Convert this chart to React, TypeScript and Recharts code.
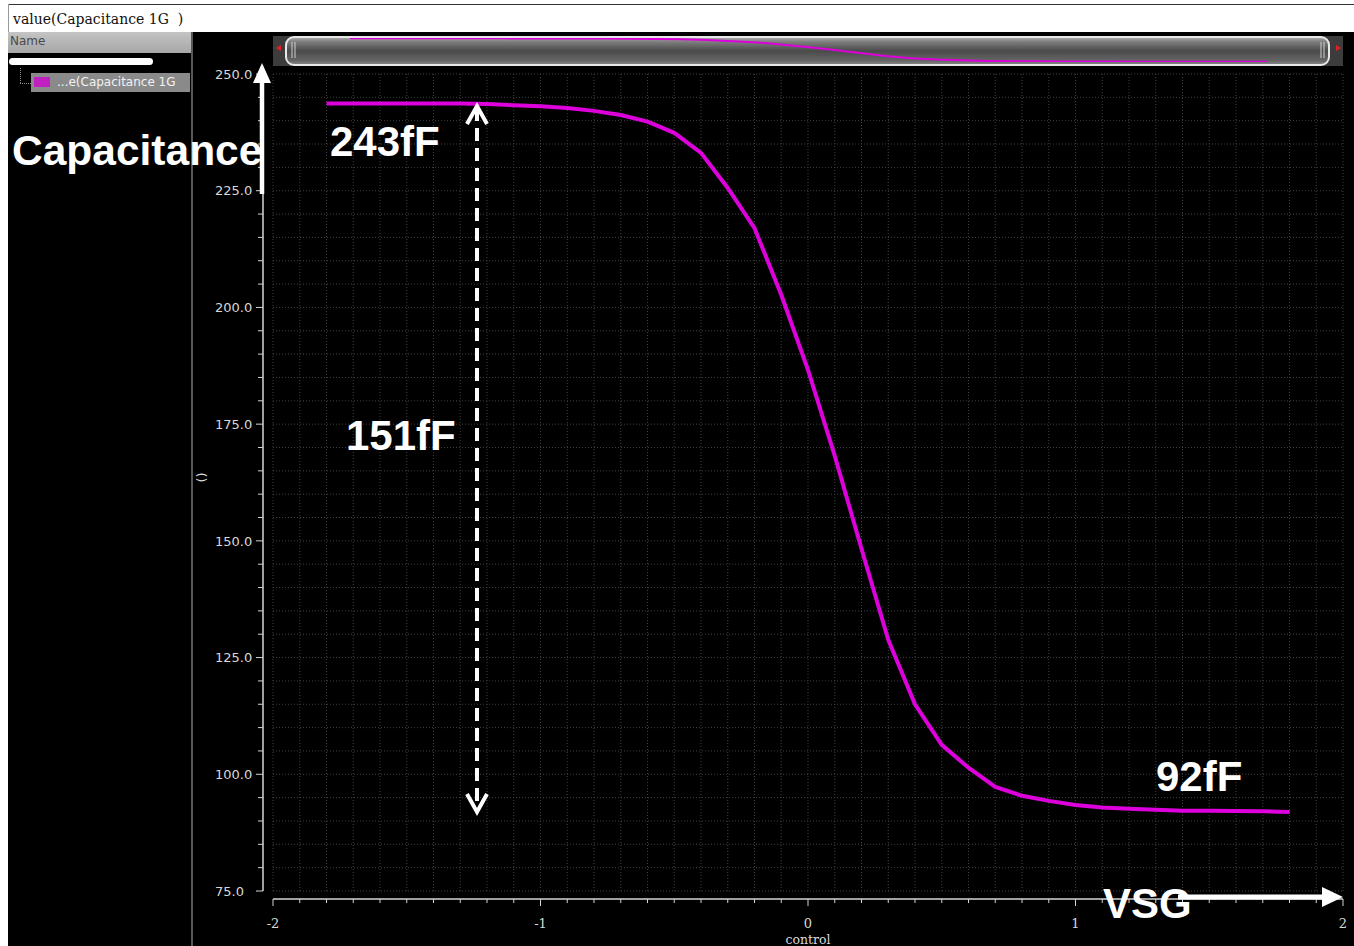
import React from 'react';
import { LineChart, Line, XAxis, YAxis, CartesianGrid } from 'recharts';

// ---- data ----
const vsg = [
  -1.8, -1.7, -1.6, -1.5, -1.4, -1.3, -1.2, -1.1, -1.0, -0.9, -0.8, -0.7, -0.6,
  -0.5, -0.4, -0.3, -0.2, -0.1, 0.0, 0.1, 0.2, 0.3, 0.4, 0.5, 0.6, 0.7, 0.8,
  0.9, 1.0, 1.1, 1.2, 1.3, 1.4, 1.5, 1.6, 1.7, 1.8,
];
const capacitance = [
  243.7, 243.7, 243.7, 243.7, 243.7, 243.7, 243.6, 243.3, 243.1, 242.7, 242.1,
  241.2, 239.8, 237.4, 233.1, 225.6, 217.0, 202.7, 186.6, 168.2, 148.3, 128.8,
  115.0, 106.3, 101.4, 97.3, 95.4, 94.3, 93.4, 92.9, 92.6, 92.4, 92.2, 92.2,
  92.15, 92.1, 91.9,
];
const xTickLabels = ['-2', '-1', '0', '1', '2'];
const yLabelTicks = [75, 100, 125, 150, 175, 200, 225, 250];
const xTicks = Array.from({ length: 41 }, (_, i) => (i - 20) / 10);
const yTicks = Array.from({ length: 36 }, (_, i) => 75 + i * 5);

const data = vsg.map((v, i) => ({ vsg: v, cap: capacitance[i] }));

const CURVE = '#dd00dd';
const AXIS = '#d4d4d4';

const YTick = (props: any) => {
  const { x, y, payload } = props;
  const v = payload.value as number;
  const major = yLabelTicks.includes(v);
  const ax = x - 10;
  return (
    <g>
      <line x1={ax - (major ? 7 : 5)} x2={ax} y1={y} y2={y} stroke={AXIS} strokeWidth={1} />
      {major && (
        <text x={ax - 48} y={y} dy="0.36em" fill="#d8d8d8" fontFamily="DejaVu Sans" fontSize={13}>
          {v.toFixed(1)}
        </text>
      )}
    </g>
  );
};

const XTick = (props: any) => {
  const { x, y, payload } = props;
  const v = payload.value as number;
  const major = Math.abs(v - Math.round(v)) < 1e-6;
  const ay = y + 8;
  return (
    <g>
      <line x1={x} x2={x} y1={ay} y2={ay + (major ? 7 : 4)} stroke={AXIS} strokeWidth={1} />
      {major && (
        <text x={x} y={ay + 29} textAnchor="middle" fill="#d8d8d8" fontFamily="DejaVu Serif" fontSize={13}>
          {xTickLabels[Math.round(v) + 2]}
        </text>
      )}
    </g>
  );
};

const bigText = {
  fontFamily: 'Liberation Sans, Arial, sans-serif',
  fontWeight: 700,
  fontSize: 42,
  fill: '#ffffff',
} as const;

export default function App() {
  return (
    <div
      style={{
        position: 'absolute',
        left: 0,
        top: 0,
        width: 1354,
        height: 946,
        background: '#ffffff',
        overflow: 'hidden',
      }}
    >
      {/* window frame / title */}
      <div style={{ position: 'absolute', left: 8, top: 4, width: 1346, height: 1, background: '#333' }} />
      <div style={{ position: 'absolute', left: 8, top: 4, width: 1, height: 28, background: '#999' }} />
      <div
        style={{
          position: 'absolute',
          left: 13,
          top: 11,
          fontFamily: 'DejaVu Serif',
          fontSize: 14,
          color: '#111',
          whiteSpace: 'pre',
          lineHeight: '16px',
        }}
      >
        {'value(Capacitance 1G  )'}
      </div>
      <div style={{ position: 'absolute', left: 8, top: 32, width: 1346, height: 914, background: '#000' }} />

      {/* left panel */}
      <div
        style={{
          position: 'absolute',
          left: 8,
          top: 32,
          width: 184,
          height: 21,
          background: 'linear-gradient(#c4c4c4, #a6a6a6)',
          fontFamily: 'DejaVu Sans',
          fontSize: 12,
          color: '#4a4a4a',
          lineHeight: '19px',
          paddingLeft: 2,
          boxSizing: 'border-box',
        }}
      >
        Name
      </div>
      <div style={{ position: 'absolute', left: 9, top: 58, width: 144, height: 7, borderRadius: 4, background: '#fff' }} />
      <div style={{ position: 'absolute', left: 20, top: 68, width: 0, height: 15, borderLeft: '1px dotted #888' }} />
      <div style={{ position: 'absolute', left: 20, top: 83, width: 11, height: 0, borderTop: '1px dotted #888' }} />
      <div style={{ position: 'absolute', left: 31, top: 73, width: 159, height: 19, background: '#8a8a8a' }} />
      <div style={{ position: 'absolute', left: 34, top: 77, width: 16, height: 10, background: '#c21fc2' }} />
      <div
        style={{
          position: 'absolute',
          left: 57,
          top: 74,
          fontFamily: 'DejaVu Sans',
          fontSize: 12,
          color: '#f2f2f2',
          lineHeight: '17px',
          whiteSpace: 'pre',
        }}
      >
        ...e(Capacitance 1G
      </div>
      <div style={{ position: 'absolute', left: 191, top: 32, width: 2, height: 914, background: '#585858' }} />

      {/* scrollbar (overview) */}
      <svg style={{ position: 'absolute', left: 0, top: 0 }} width={1354} height={946}>
        <defs>
          <linearGradient id="sbg" x1="0" y1="0" x2="0" y2="1">
            <stop offset="0" stopColor="#b0b0b0" />
            <stop offset="0.18" stopColor="#7c7c7c" />
            <stop offset="0.5" stopColor="#4a4a4a" />
            <stop offset="0.85" stopColor="#666666" />
            <stop offset="1" stopColor="#8c8c8c" />
          </linearGradient>
        </defs>
        <rect x={273} y={36} width={1070} height={30} fill="#3c3c3c" />
        <polygon points="276,48 281,45 281,51" fill="#e02020" />
        <polygon points="1341,48 1336,45 1336,51" fill="#e02020" />
        <rect x={286} y={37} width={1043} height={28} rx={8} fill="url(#sbg)" stroke="#e8e8e8" strokeWidth={2} />
        <line x1={292} x2={292} y1={42} y2={58} stroke="#d0d0d0" strokeWidth={1} />
        <line x1={295} x2={295} y1={42} y2={58} stroke="#d0d0d0" strokeWidth={1} />
        <line x1={1321} x2={1321} y1={42} y2={58} stroke="#d0d0d0" strokeWidth={1} />
        <line x1={1324} x2={1324} y1={42} y2={58} stroke="#d0d0d0" strokeWidth={1} />
      </svg>
      <div style={{ position: 'absolute', left: 299, top: 38, width: 1020, height: 24 }}>
        <LineChart width={1020} height={24} data={data} margin={{ top: 0, right: 0, bottom: 0, left: 0 }}>
          <XAxis dataKey="vsg" type="number" domain={[-2, 2]} hide />
          <YAxis type="number" domain={[90, 246]} hide />
          <Line dataKey="cap" type="linear" stroke={CURVE} strokeWidth={2} dot={false} isAnimationActive={false} />
        </LineChart>
      </div>

      {/* main chart */}
      <div style={{ position: 'absolute', left: 0, top: 0, width: 1354, height: 946 }}>
        <LineChart width={1354} height={946} data={data} margin={{ top: 74, right: 11, bottom: 0, left: 213 }}>
          <CartesianGrid stroke="#404040" strokeDasharray="1 2" />
          <XAxis
            dataKey="vsg"
            type="number"
            domain={[-2, 2]}
            ticks={xTicks}
            interval={0}
            height={55}
            tickSize={0}
            tickMargin={0}
            tickLine={false}
            tick={<XTick />}
            axisLine={{ stroke: AXIS, strokeWidth: 1.5, transform: 'translate(0,8)' } as any}
            label={{
              value: 'control',
              position: 'insideBottom',
              offset: 2,
              fill: '#d8d8d8',
              fontFamily: 'DejaVu Serif',
              fontSize: 12.5,
            }}
          />
          <YAxis
            type="number"
            domain={[75, 250]}
            ticks={yTicks}
            interval={0}
            width={60}
            tickSize={0}
            tickMargin={0}
            tickLine={false}
            tick={<YTick />}
            axisLine={{ stroke: AXIS, strokeWidth: 1.5, transform: 'translate(-10,0)' } as any}
            label={{
              value: '()',
              angle: -90,
              position: 'insideLeft',
              offset: -12,
              fill: '#d8d8d8',
              fontFamily: 'DejaVu Sans',
              fontSize: 13,
            }}
          />
          <Line
            dataKey="cap"
            type="linear"
            stroke={CURVE}
            strokeWidth={4}
            dot={false}
            isAnimationActive={false}
          />
        </LineChart>
      </div>

      {/* annotations */}
      <svg style={{ position: 'absolute', left: 0, top: 0, pointerEvents: 'none' }} width={1354} height={946}>
        <text x={12} y={165} {...bigText} fontSize={42.5}>Capacitance</text>
        <line x1={262} y1={80} x2={262} y2={194} stroke="#fff" strokeWidth={4.5} />
        <polygon points="262,63 253,83 271,83" fill="#fff" />

        <text x={330} y={156} {...bigText}>243fF</text>
        <text x={346} y={450} {...bigText}>151fF</text>
        <text x={1156} y={791} {...bigText}>92fF</text>

        <line x1={477} y1={108} x2={477} y2={810} stroke="#fff" strokeWidth={4} strokeDasharray="13 7" />
        <polyline points="467,124 477,106 487,124" fill="none" stroke="#fff" strokeWidth={4} />
        <polyline points="467,794 477,812 487,794" fill="none" stroke="#fff" strokeWidth={4} />

        <line x1={1178} y1={897} x2={1326} y2={897} stroke="#fff" strokeWidth={5} />
        <polygon points="1343,897 1322,887 1322,907" fill="#fff" />
        <text x={1103} y={918} {...bigText}>VSG</text>
      </svg>
    </div>
  );
}
